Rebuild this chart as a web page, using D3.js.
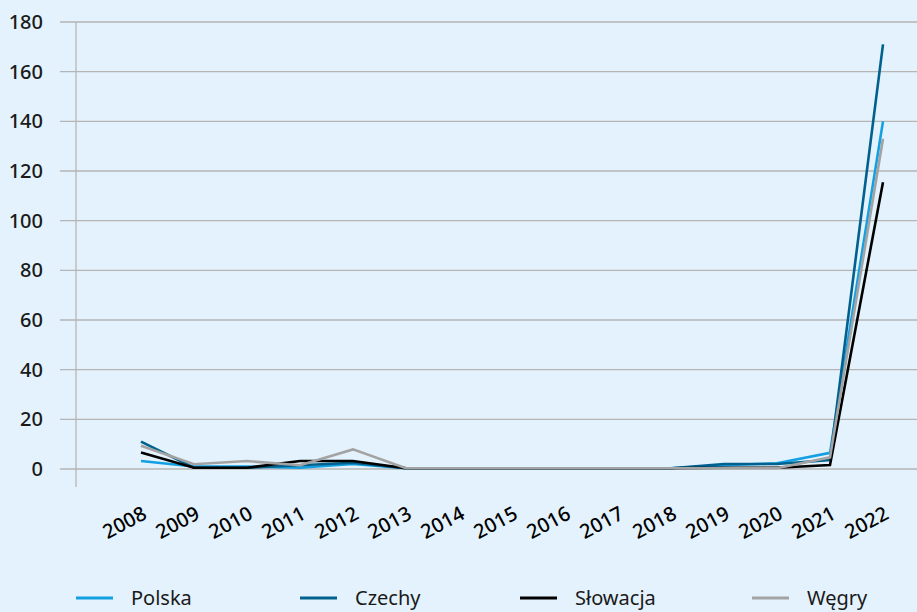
<!DOCTYPE html>
<html>
<head>
<meta charset="utf-8">
<script src="https://cdn.jsdelivr.net/npm/d3@7"></script>
<style>
  html, body { margin: 0; padding: 0; background: #e3f2fc; }
  svg { display: block; }
</style>
</head>
<body>
<svg id="chart" width="917" height="612"></svg>
<script>
const years = ["2008","2009","2010","2011","2012","2013","2014","2015","2016","2017","2018","2019","2020","2021","2022"];
const polska   = [3.2, 1.0, 1.0, 0.5, 2.0, 0.3, 0.3, 0.3, 0.3, 0.3, 0.3, 1.5, 2.3, 6.5, 140];
const czechy   = [11,  0.5, 0.5, 1.5, 2.5, 0.3, 0.3, 0.3, 0.3, 0.3, 0.3, 2.0, 2.0, 3.6, 171];
const slowacja = [6.6, 0.5, 0.5, 3.2, 3.2, 0.3, 0.3, 0.3, 0.3, 0.3, 0.3, 0.5, 0.5, 1.6, 115.5];
const wegry    = [9.4, 1.9, 3.2, 1.5, 7.9, 0.3, 0.3, 0.3, 0.3, 0.3, 0.3, 0.3, 0.3, 4.7, 133];
const yTicks = [0, 20, 40, 60, 80, 100, 120, 140, 160, 180];

const series = [
  { name: "Polska",   values: polska,   color: "#12a0e2" },
  { name: "Czechy",   values: czechy,   color: "#00618f" },
  { name: "Słowacja", values: slowacja, color: "#000000" },
  { name: "Węgry",    values: wegry,    color: "#a3a3a3" }
];

const svg = d3.select("#chart");
const font = "'Noto Sans', 'Open Sans', sans-serif";

const x = d3.scalePoint().domain(years).range([141, 883]);
const y = d3.scaleLinear().domain([0, 180]).range([469, 22]);

// y tick labels
svg.append("g")
  .attr("transform", "translate(60,0)")
  .call(d3.axisLeft(y).tickValues(yTicks).tickSize(0).tickPadding(17))
  .call(g => g.select(".domain").remove())
  .call(g => g.selectAll("text")
    .attr("font-family", font).attr("font-size", 20).attr("font-weight", 500)
    .attr("fill", "#1a1a1a"));

// horizontal gridlines, starting with a short stub left of the axis
svg.append("g").selectAll("line").data(yTicks).join("line")
  .attr("x1", 60).attr("x2", 917)
  .attr("y1", d => y(d)).attr("y2", d => y(d))
  .attr("stroke", "#b5b5b5").attr("stroke-width", 1.3);

// vertical axis line
svg.append("line")
  .attr("x1", 76).attr("x2", 76)
  .attr("y1", y(180)).attr("y2", 487)
  .attr("stroke", "#b5b5b5").attr("stroke-width", 1.3);

// rotated year labels
svg.append("g").selectAll("text").data(years).join("text")
  .attr("transform", d => `translate(${x(d) + 7},${518}) rotate(-28)`)
  .attr("text-anchor", "end")
  .attr("font-family", font).attr("font-size", 20).attr("font-weight", 500)
  .attr("fill", "#000")
  .text(d => d);

// series lines
const line = d3.line().x((d, i) => x(years[i])).y(d => y(d));
svg.append("g").selectAll("path").data(series).join("path")
  .attr("d", s => line(s.values))
  .attr("fill", "none")
  .attr("stroke", s => s.color)
  .attr("stroke-width", 2.6)
  .attr("stroke-linejoin", "miter");

// legend
const legendX = [76, 300, 520, 752];
const lg = svg.append("g").selectAll("g").data(series).join("g")
  .attr("transform", (s, i) => `translate(${legendX[i]},598)`);
lg.append("line").attr("x1", 0).attr("x2", 37)
  .attr("stroke", s => s.color).attr("stroke-width", 3);
lg.append("text").attr("x", 55).attr("dy", "0.35em")
  .attr("font-family", font).attr("font-size", 20)
  .attr("fill", "#1a1a1a")
  .text(s => s.name);
</script>
</body>
</html>
